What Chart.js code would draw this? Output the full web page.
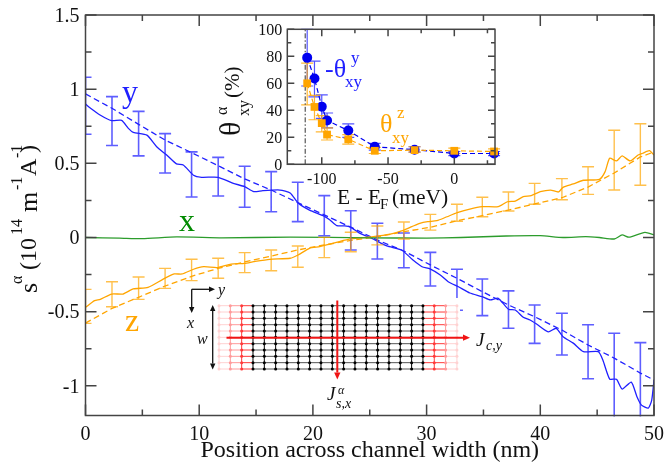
<!DOCTYPE html>
<html>
<head>
<meta charset="utf-8">
<script src="https://cdn.jsdelivr.net/npm/chart.js@4"></script>
<style>
  html, body { margin: 0; padding: 0; background: #fff; }
  #stage { position: relative; width: 667px; height: 465px; overflow: hidden; }
  canvas { position: absolute; }
  .lbl { position: absolute; white-space: nowrap; line-height: 1; font-family: 'Liberation Serif', serif; color: #111; transform-origin: 0 0; }
</style>
</head>
<body>
<div id="stage">
  <canvas id="main" width="667" height="465" style="left:0;top:0"></canvas>
  <canvas id="inset" width="280" height="200" style="left:230px;top:15px"></canvas>
</div>
<script>
const serif = "'Liberation Serif', serif";
const blue = '#2020ff';
const orange = '#ffa500';
const green = '#2c9c2c';

// main panel, spin accumulation
const yTicks = [-1, -0.5, 0, 0.5, 1, 1.5];
const yMinor = [-0.75, -0.25, 0.25, 0.75, 1.25];
const xTicks = [0, 10, 20, 30, 40, 50];
const xMinor = [5, 15, 25, 35, 45];

const ySolidX = [0, 0.3, 1.28, 2.3, 3.18, 3.77, 4.2, 5.4, 6.26, 7.14, 8, 8.6, 9.5, 10.2, 11.67, 13, 14, 14.8, 15.6, 17.1, 18, 18.7, 19.7, 20.9, 21.5, 22.1, 22.8, 23.3, 24.1, 25.3, 26.5, 27.8, 28.8, 29.6, 30.3, 31.2, 31.9, 32.8, 33.8, 34.9, 35.6, 36.3, 37.2, 37.8, 38.5, 39.1, 39.7, 40.7, 41.4, 42, 42.9, 43.8, 45.1, 45.5, 46.1, 46.7, 47.2, 48, 48.5, 48.9, 49.5, 49.8, 50];
const ySolid = [0.9, 0.88, 0.826, 0.788, 0.79, 0.736, 0.709, 0.69, 0.612, 0.556, 0.496, 0.489, 0.42, 0.406, 0.406, 0.365, 0.343, 0.309, 0.316, 0.32, 0.3, 0.233, 0.185, 0.147, 0.118, 0.08, 0.078, 0.07, 0.03, -0.01, -0.057, -0.084, -0.152, -0.197, -0.212, -0.253, -0.298, -0.332, -0.374, -0.399, -0.421, -0.41, -0.484, -0.489, -0.538, -0.556, -0.585, -0.636, -0.612, -0.669, -0.712, -0.77, -0.77, -0.826, -0.954, -0.956, -1.022, -0.975, -1.073, -1.13, -1.15, -1.096, -0.96];

const barX = [0, 2.33, 4.67, 7, 9.33, 11.67, 14, 16.33, 18.67, 21, 23.33, 25.67, 28, 30.33, 32.67, 34.9, 37.2, 39.5, 41.9, 44.2, 46.5, 48.8];
const dashX = [0, 2.33, 4.67, 7, 9.33, 11.67, 14, 16.33, 18.67, 21, 23.33, 25.67, 28, 30.33, 32.67, 34.9, 37.2, 39.5, 41.9, 44.2, 46.5, 48.8, 50];
const yDashed = [0.968, 0.871, 0.763, 0.657, 0.572, 0.484, 0.395, 0.32, 0.235, 0.152, 0.07, -0.017, -0.091, -0.185, -0.275, -0.365, -0.455, -0.534, -0.624, -0.725, -0.813, -0.914, -0.961];
const yHi = [1.08, 0.95, 0.85, 0.7, 0.577, 0.54, 0.48, 0.444, 0.372, 0.282, 0.18, 0.096, 0.03, -0.1, -0.214, -0.28, -0.36, -0.455, -0.511, -0.588, -0.646, -0.709];
const yLo = [0.696, 0.62, 0.55, 0.435, 0.273, 0.28, 0.204, 0.174, 0.107, 0.012, -0.084, -0.145, -0.204, -0.327, -0.49, -0.527, -0.612, -0.714, -0.792, -0.952, -1.3, -1.3];

const zSolidX = [0, 0.8, 1.3, 2.3, 3.3, 4.2, 5.5, 6.8, 7.8, 8.5, 9.5, 10.4, 11.6, 12.8, 14, 14.8, 16.2, 18, 18.7, 19.7, 20.6, 21.5, 23.1, 25.3, 26.8, 27.8, 28.7, 29.4, 30.1, 30.9, 31.8, 32.7, 33.8, 34.9, 36.3, 37.1, 37.8, 38.5, 39.2, 40, 40.9, 41.6, 42, 42.9, 43.8, 45.2, 45.7, 46.1, 46.7, 47.2, 47.9, 48.6, 49, 49.6, 50];
const zSolid = [-0.471, -0.426, -0.417, -0.381, -0.381, -0.347, -0.336, -0.282, -0.246, -0.246, -0.214, -0.197, -0.203, -0.179, -0.174, -0.163, -0.147, -0.14, -0.118, -0.073, -0.062, -0.044, -0.012, 0.005, 0.022, 0.044, 0.073, 0.096, 0.107, 0.113, 0.14, 0.167, 0.192, 0.208, 0.208, 0.241, 0.246, 0.275, 0.282, 0.309, 0.32, 0.307, 0.338, 0.361, 0.386, 0.392, 0.444, 0.534, 0.516, 0.55, 0.516, 0.556, 0.568, 0.585, 0.556];
const zDashed = [-0.577, -0.478, -0.403, -0.327, -0.262, -0.208, -0.165, -0.125, -0.084, -0.05, -0.02, 0.005, 0.039, 0.069, 0.113, 0.147, 0.185, 0.226, 0.268, 0.34, 0.435, 0.543, 0.577];
const zHi = [-0.35, -0.298, -0.266, -0.208, -0.147, -0.14, -0.102, -0.084, -0.057, 0.001, 0.035, 0.078, 0.104, 0.156, 0.224, 0.271, 0.307, 0.365, 0.397, 0.477, 0.723, 0.767];
const zLo = [-0.579, -0.467, -0.417, -0.343, -0.291, -0.275, -0.237, -0.224, -0.201, -0.136, -0.096, -0.05, -0.01, 0.05, 0.11, 0.14, 0.179, 0.224, 0.255, 0.291, 0.32, 0.352];

const xLineX = [0, 3, 5, 8, 12, 18, 25, 30, 33, 37, 40, 42, 44, 45.2, 46.5, 47.2, 47.8, 49.2, 50];
const xLine = [0, -0.004, -0.008, 0.004, -0.002, 0.002, -0.002, -0.004, 0, 0.01, 0.012, 0, 0.006, 0, -0.01, 0.017, 0.002, 0.035, 0.017];

// inset panel, spin Hall angle
const energy = [-111, -105.5, -100, -96, -80, -60, -30, 0, 30];
const thetaY = [79, 63.5, 42.7, 32.5, 25, 13, 10.8, 8, 8];
const thetaYHi = [100, 76.5, 51.5, 38, 30, 15.5, 13, 9.5, 9.5];
const thetaYLo = [58, 50, 34, 27, 20, 10.5, 9, 6.5, 6.5];
const thetaZ = [60, 42.5, 30.5, 22, 18.5, 10, 10.5, 10, 9.5];
const thetaZHi = [75, 51, 36, 27, 22, 12.5, 13, 12, 11.5];
const thetaZLo = [44, 33, 24, 18, 15, 8, 9, 8, 8];
const insetXTicks = [-100, -50, 0];
const insetXMinor = [-75, -25, 25];
const insetYTicks = [0, 20, 40, 60, 80, 100];
const insetYMinor = [10, 30, 50, 70, 90];
const bandEdge = -112.5;

function zip(xs, ys) {
  return xs.map((x, i) => ({ x, y: ys[i] }));
}

function line(xs, ys, color, dashed) {
  return {
    data: zip(xs, ys),
    borderColor: color,
    borderWidth: 1.3,
    borderDash: dashed ? [6, 3.5] : [],
    pointRadius: 0,
    tension: dashed ? 0 : 0.2,
    fill: false
  };
}

// ticks point inward and repeat on all four sides
function framePlugin(major, minor, xm, xn, ym, yn) {
  return {
    id: 'frame',
    afterDraw: chart => {
      const { ctx, chartArea: a, scales } = chart;
      ctx.save();
      ctx.strokeStyle = '#444';
      ctx.lineWidth = 1.5;
      ctx.strokeRect(a.left, a.top, a.right - a.left, a.bottom - a.top);
      ctx.beginPath();
      const xt = (vals, len) => vals.forEach(v => {
        const p = scales.x.getPixelForValue(v);
        ctx.moveTo(p, a.bottom); ctx.lineTo(p, a.bottom - len);
        ctx.moveTo(p, a.top); ctx.lineTo(p, a.top + len);
      });
      const yt = (vals, len) => vals.forEach(v => {
        const p = scales.y.getPixelForValue(v);
        ctx.moveTo(a.left, p); ctx.lineTo(a.left + len, p);
        ctx.moveTo(a.right, p); ctx.lineTo(a.right - len, p);
      });
      xt(xm, major); xt(xn, minor);
      yt(ym, major); yt(yn, minor);
      ctx.stroke();
      ctx.restore();
    }
  };
}

function errorBarPlugin(series, capHalf, clip, hook) {
  return {
    id: 'errorBars',
    [hook]: chart => {
      const { ctx, chartArea: a, scales } = chart;
      ctx.save();
      if (clip) {
        ctx.beginPath();
        ctx.rect(a.left, a.top - 1, a.right - a.left, a.bottom - a.top + 2);
        ctx.clip();
      }
      series.forEach(s => {
        ctx.strokeStyle = s.color;
        ctx.lineWidth = s.width;
        ctx.beginPath();
        s.x.forEach((x, i) => {
          const px = scales.x.getPixelForValue(x);
          const hi = scales.y.getPixelForValue(s.hi[i]);
          const lo = scales.y.getPixelForValue(s.lo[i]);
          ctx.moveTo(px, hi); ctx.lineTo(px, lo);
          ctx.moveTo(px - capHalf, hi); ctx.lineTo(px + capHalf, hi);
          ctx.moveTo(px - capHalf, lo); ctx.lineTo(px + capHalf, lo);
        });
        ctx.stroke();
      });
      ctx.restore();
    }
  };
}

function arrow(ctx, x0, y0, x1, y1, color, width, head) {
  const ang = Math.atan2(y1 - y0, x1 - x0);
  ctx.strokeStyle = color;
  ctx.fillStyle = color;
  ctx.lineWidth = width;
  ctx.beginPath();
  ctx.moveTo(x0, y0);
  ctx.lineTo(x1 - Math.cos(ang) * head, y1 - Math.sin(ang) * head);
  ctx.stroke();
  ctx.beginPath();
  ctx.moveTo(x1, y1);
  ctx.lineTo(x1 - Math.cos(ang) * head - Math.sin(ang) * head * 0.45, y1 - Math.sin(ang) * head + Math.cos(ang) * head * 0.45);
  ctx.lineTo(x1 - Math.cos(ang) * head + Math.sin(ang) * head * 0.45, y1 - Math.sin(ang) * head - Math.cos(ang) * head * 0.45);
  ctx.closePath();
  ctx.fill();
}

// device sketch sits on a white patch over the main plot
const latticeCols = ['#ffd2d2', '#ff9a9a', '#ff3a3a', '#000', '#000', '#000', '#000', '#000', '#000', '#000', '#000', '#000', '#000', '#000', '#000', '#000', '#000', '#000', '#000', '#ff3a3a', '#ff9a9a', '#ffd2d2'];
const latticeRows = 11;

const sketchPlugin = {
  id: 'sketch',
  afterDatasetsDraw: chart => {
    const ctx = chart.ctx;
    const x0 = 219, dx = 11.33, y0 = 305.7, dy = 6.33;
    ctx.save();
    ctx.fillStyle = '#fff';
    ctx.fillRect(185, 298, 275, 100);
    ctx.fillRect(185, 282, 40, 16);
    for (let r = 0; r < latticeRows; r++) {
      const y = y0 + r * dy;
      for (let i = 0; i < latticeCols.length - 1; i++) {
        const c = latticeCols[i], next = latticeCols[i + 1];
        ctx.strokeStyle = c === '#000' && next === '#000' ? '#555' : (c === '#000' ? next : (next === '#000' ? c : next === '#ffd2d2' ? next : c));
        ctx.lineWidth = 1;
        ctx.beginPath();
        ctx.moveTo(x0 + i * dx, y); ctx.lineTo(x0 + (i + 1) * dx, y);
        ctx.stroke();
      }
    }
    latticeCols.forEach((c, i) => {
      const x = x0 + i * dx;
      ctx.strokeStyle = c;
      ctx.fillStyle = c;
      ctx.lineWidth = 1;
      ctx.beginPath();
      ctx.moveTo(x, y0); ctx.lineTo(x, y0 + (latticeRows - 1) * dy);
      ctx.stroke();
      for (let r = 0; r < latticeRows; r++) {
        ctx.beginPath();
        ctx.arc(x, y0 + r * dy, 1.5, 0, Math.PI * 2);
        ctx.fill();
      }
    });
    arrow(ctx, 226.5, 337.7, 470, 337.7, '#f01414', 2, 7);
    arrow(ctx, 337.3, 300.5, 337.3, 379.5, '#f01414', 2, 7);
    arrow(ctx, 191.7, 289.3, 215, 289.3, '#111', 1.3, 6);
    arrow(ctx, 191.7, 289.3, 191.7, 313, '#111', 1.3, 6);
    arrow(ctx, 212.7, 320, 212.7, 305, '#111', 1.3, 6);
    arrow(ctx, 212.7, 320, 212.7, 369.5, '#111', 1.3, 6);
    ctx.restore();
  }
};

new Chart(document.getElementById('main'), {
  type: 'line',
  data: {
    datasets: [
      line(xLineX, xLine, green, false),
      line(zSolidX, zSolid, orange, false),
      line(dashX, zDashed, orange, true),
      line(ySolidX, ySolid, blue, false),
      line(dashX, yDashed, blue, true)
    ]
  },
  options: {
    responsive: false,
    animation: false,
    parsing: false,
    normalized: true,
    layout: { padding: { top: 15, right: 13, left: 0, bottom: 0 } },
    plugins: { legend: { display: false }, tooltip: { enabled: false } },
    scales: {
      x: {
        type: 'linear',
        min: 0,
        max: 50,
        afterBuildTicks: s => { s.ticks = xTicks.map(value => ({ value })); },
        afterFit: s => { s.height = 49.5; s.paddingLeft = 0; s.paddingRight = 0; },
        grid: { display: false, drawTicks: false },
        border: { display: false },
        ticks: { color: '#111', padding: 7, maxRotation: 0, font: { family: serif, size: 20 }, callback: v => String(v) },
        title: { display: true, text: 'Position across channel width (nm)', color: '#111', padding: { top: -2, bottom: 0 }, font: { family: serif, size: 24 } }
      },
      y: {
        type: 'linear',
        min: -1.2,
        max: 1.5,
        afterBuildTicks: s => { s.ticks = yTicks.map(value => ({ value })); },
        afterFit: s => { s.width = 85.5; s.paddingTop = 0; s.paddingBottom = 0; },
        grid: { display: false, drawTicks: false },
        border: { display: false },
        ticks: { color: '#111', padding: 6, labelOffset: 1.5, font: { family: serif, size: 20 }, callback: v => String(v) }
      }
    }
  },
  plugins: [
    errorBarPlugin([
      { x: barX, hi: yHi, lo: yLo, color: 'rgba(40,40,255,0.75)', width: 1.6 },
      { x: barX, hi: zHi, lo: zLo, color: 'rgba(255,165,0,0.7)', width: 1.4 }
    ], 6, true, 'afterDatasetsDraw'),
    sketchPlugin,
    framePlugin(11, 6, xTicks, xMinor, yTicks, yMinor)
  ]
});

function markers(xs, ys, color, style, radius) {
  return {
    data: zip(xs, ys),
    borderColor: color,
    backgroundColor: color,
    borderWidth: 1.2,
    borderDash: [5, 3],
    pointStyle: style,
    pointRadius: radius,
    pointBorderWidth: 0,
    pointBackgroundColor: color,
    tension: 0,
    clip: false
  };
}

// chart.js paints the first dataset on top
new Chart(document.getElementById('inset'), {
  type: 'line',
  data: {
    datasets: [
      markers(energy, thetaZ, orange, 'rect', 5.5),
      markers(energy, thetaY, '#0000f0', 'circle', 5),
      {
        data: zip([bandEdge, bandEdge], [0, 100]),
        borderColor: '#333',
        borderWidth: 1,
        borderDash: [5, 2, 1.5, 2],
        pointRadius: 0
      }
    ]
  },
  options: {
    responsive: false,
    animation: false,
    parsing: false,
    layout: { padding: { top: 14.3, right: 15, left: 0, bottom: 0 } },
    plugins: { legend: { display: false }, tooltip: { enabled: false } },
    scales: {
      x: {
        type: 'linear',
        min: -126,
        max: 30.7,
        afterBuildTicks: s => { s.ticks = insetXTicks.map(value => ({ value })); },
        afterFit: s => { s.height = 50.7; s.paddingLeft = 0; s.paddingRight = 0; },
        grid: { display: false, drawTicks: false },
        border: { display: false },
        ticks: { color: '#111', padding: 6, maxRotation: 0, font: { family: serif, size: 16 }, callback: v => String(v) }
      },
      y: {
        type: 'linear',
        min: 0,
        max: 100,
        afterBuildTicks: s => { s.ticks = insetYTicks.map(value => ({ value })); },
        afterFit: s => { s.width = 57.3; s.paddingTop = 0; s.paddingBottom = 0; },
        grid: { display: false, drawTicks: false },
        border: { display: false },
        ticks: { color: '#111', padding: 5, labelOffset: 1, font: { family: serif, size: 16 }, callback: v => String(v) }
      }
    }
  },
  plugins: [
    errorBarPlugin([
      { x: energy, hi: thetaYHi, lo: thetaYLo, color: 'rgba(40,40,255,0.8)', width: 1.2 },
      { x: energy, hi: thetaZHi, lo: thetaZLo, color: 'rgba(255,165,0,0.8)', width: 1.2 }
    ], 6, false, 'beforeDatasetsDraw'),
    framePlugin(7, 4, insetXTicks, insetXMinor, insetYTicks, insetYMinor)
  ]
});

// text with sub and superscripts, placed piece by piece
function addLabel(text, x, y, size, opts) {
  const o = opts || {};
  const el = document.createElement('span');
  el.className = 'lbl';
  el.textContent = text;
  el.style.left = x + 'px';
  el.style.top = y + 'px';
  el.style.fontSize = size + 'px';
  if (o.color) el.style.color = o.color;
  if (o.italic) el.style.fontStyle = 'italic';
  if (o.rot) el.style.transform = 'rotate(-90deg)';
  document.getElementById('stage').appendChild(el);
}

const vert = { rot: true };
addLabel('s', 16, 293, 26, vert);
addLabel('α', 9, 284, 16, vert);
addLabel('(10', 16, 270, 24, vert);
addLabel('14', 9, 235, 16, vert);
addLabel('m', 16, 212, 26, vert);
addLabel('-1', 9, 190, 16, vert);
addLabel('A', 16, 176, 24, vert);
addLabel('-1', 9, 158, 16, vert);
addLabel(')', 16, 153, 24, vert);

addLabel('θ', 215, 136, 30, vert);
addLabel('α', 214, 115, 16, vert);
addLabel('xy', 236, 116, 16, vert);
addLabel('(%)', 222, 98, 21, vert);

addLabel('y', 122, 75, 32, { color: blue });
addLabel('x', 179, 204, 32, { color: '#008a00' });
addLabel('z', 125, 304, 32, { color: orange });

addLabel('-θ', 325, 56, 26, { color: blue });
addLabel('y', 351, 49, 17, { color: blue });
addLabel('xy', 345, 73, 17, { color: blue });
addLabel('θ', 380, 111, 26, { color: orange });
addLabel('z', 397, 104, 17, { color: orange });
addLabel('xy', 392, 129, 17, { color: orange });

addLabel('E - E', 337, 187, 21.5);
addLabel('F', 380, 197, 15);
addLabel('(meV)', 392, 187, 21.5);

addLabel('y', 218, 282, 16, { italic: true });
addLabel('x', 187, 315, 16, { italic: true });
addLabel('w', 197, 331, 16, { italic: true });
addLabel('J', 476, 330, 19, { italic: true });
addLabel('c,y', 486, 339, 14, { italic: true });
addLabel('J', 327, 384, 19, { italic: true });
addLabel('α', 338, 384, 12, { italic: true });
addLabel('s,x', 336, 397, 14, { italic: true });
</script>
</body>
</html>
